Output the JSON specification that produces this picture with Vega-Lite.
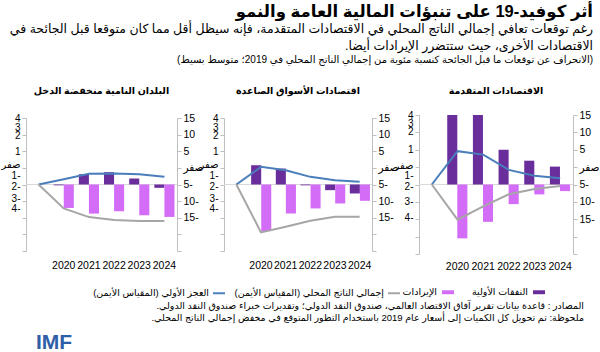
{
  "$schema": "https://vega.github.io/schema/vega-lite/v6.json",
  "padding": {"left": 0, "right": 0, "top": 3, "bottom": 0},
  "background": "white",
  "datasets": {
    "d": [
      {"panel": "A", "kind": "bar", "series": "النفقات الأولية", "year": "2020", "value": 4},
      {"panel": "A", "kind": "bar", "series": "النفقات الأولية", "year": "2021", "value": 4},
      {"panel": "A", "kind": "bar", "series": "النفقات الأولية", "year": "2022", "value": 2.0},
      {"panel": "A", "kind": "bar", "series": "النفقات الأولية", "year": "2023", "value": 1.37},
      {"panel": "A", "kind": "bar", "series": "النفقات الأولية", "year": "2024", "value": 1.03},
      {"panel": "A", "kind": "bar", "series": "الإيرادات", "year": "2020", "value": -3.1},
      {"panel": "A", "kind": "bar", "series": "الإيرادات", "year": "2021", "value": -2.15},
      {"panel": "A", "kind": "bar", "series": "الإيرادات", "year": "2022", "value": -1.13},
      {"panel": "A", "kind": "bar", "series": "الإيرادات", "year": "2023", "value": -0.57},
      {"panel": "A", "kind": "bar", "series": "الإيرادات", "year": "2024", "value": -0.38},
      {"panel": "A", "kind": "line", "series": "العجز الأولي (المقياس الأيمن)", "year": "2019", "value": 0},
      {"panel": "A", "kind": "line", "series": "العجز الأولي (المقياس الأيمن)", "year": "2020", "value": 9.6},
      {"panel": "A", "kind": "line", "series": "العجز الأولي (المقياس الأيمن)", "year": "2021", "value": 8.6},
      {"panel": "A", "kind": "line", "series": "العجز الأولي (المقياس الأيمن)", "year": "2022", "value": 4.2},
      {"panel": "A", "kind": "line", "series": "العجز الأولي (المقياس الأيمن)", "year": "2023", "value": 2.5},
      {"panel": "A", "kind": "line", "series": "العجز الأولي (المقياس الأيمن)", "year": "2024", "value": 1.8},
      {"panel": "A", "kind": "line", "series": "إجمالي الناتج المحلي (المقياس الأيمن)", "year": "2019", "value": 0},
      {"panel": "A", "kind": "line", "series": "إجمالي الناتج المحلي (المقياس الأيمن)", "year": "2020", "value": -10.1},
      {"panel": "A", "kind": "line", "series": "إجمالي الناتج المحلي (المقياس الأيمن)", "year": "2021", "value": -6.3},
      {"panel": "A", "kind": "line", "series": "إجمالي الناتج المحلي (المقياس الأيمن)", "year": "2022", "value": -2.8},
      {"panel": "A", "kind": "line", "series": "إجمالي الناتج المحلي (المقياس الأيمن)", "year": "2023", "value": -1.3},
      {"panel": "A", "kind": "line", "series": "إجمالي الناتج المحلي (المقياس الأيمن)", "year": "2024", "value": -0.4},

      {"panel": "E", "kind": "bar", "series": "النفقات الأولية", "year": "2020", "value": 1.16},
      {"panel": "E", "kind": "bar", "series": "النفقات الأولية", "year": "2021", "value": 0.96},
      {"panel": "E", "kind": "bar", "series": "النفقات الأولية", "year": "2022", "value": -0.05},
      {"panel": "E", "kind": "bar", "series": "النفقات الأولية", "year": "2023", "value": -0.34},
      {"panel": "E", "kind": "bar", "series": "النفقات الأولية", "year": "2024", "value": -0.54},
      {"panel": "E", "kind": "bar", "series": "الإيرادات", "year": "2020", "value": -2.8},
      {"panel": "E", "kind": "bar", "series": "الإيرادات", "year": "2021", "value": -1.74},
      {"panel": "E", "kind": "bar", "series": "الإيرادات", "year": "2022", "value": -1.44},
      {"panel": "E", "kind": "bar", "series": "الإيرادات", "year": "2023", "value": -1.14},
      {"panel": "E", "kind": "bar", "series": "الإيرادات", "year": "2024", "value": -0.98},
      {"panel": "E", "kind": "line", "series": "العجز الأولي (المقياس الأيمن)", "year": "2019", "value": 0},
      {"panel": "E", "kind": "line", "series": "العجز الأولي (المقياس الأيمن)", "year": "2020", "value": 5.3},
      {"panel": "E", "kind": "line", "series": "العجز الأولي (المقياس الأيمن)", "year": "2021", "value": 4.3},
      {"panel": "E", "kind": "line", "series": "العجز الأولي (المقياس الأيمن)", "year": "2022", "value": 2.3},
      {"panel": "E", "kind": "line", "series": "العجز الأولي (المقياس الأيمن)", "year": "2023", "value": 1.3},
      {"panel": "E", "kind": "line", "series": "العجز الأولي (المقياس الأيمن)", "year": "2024", "value": 0.8},
      {"panel": "E", "kind": "line", "series": "إجمالي الناتج المحلي (المقياس الأيمن)", "year": "2019", "value": 0},
      {"panel": "E", "kind": "line", "series": "إجمالي الناتج المحلي (المقياس الأيمن)", "year": "2020", "value": -14.4},
      {"panel": "E", "kind": "line", "series": "إجمالي الناتج المحلي (المقياس الأيمن)", "year": "2021", "value": -12.7},
      {"panel": "E", "kind": "line", "series": "إجمالي الناتج المحلي (المقياس الأيمن)", "year": "2022", "value": -10.9},
      {"panel": "E", "kind": "line", "series": "إجمالي الناتج المحلي (المقياس الأيمن)", "year": "2023", "value": -9.7},
      {"panel": "E", "kind": "line", "series": "إجمالي الناتج المحلي (المقياس الأيمن)", "year": "2024", "value": -9.7},

      {"panel": "L", "kind": "bar", "series": "النفقات الأولية", "year": "2020", "value": -0.05},
      {"panel": "L", "kind": "bar", "series": "النفقات الأولية", "year": "2021", "value": 0.62},
      {"panel": "L", "kind": "bar", "series": "النفقات الأولية", "year": "2022", "value": 0.74},
      {"panel": "L", "kind": "bar", "series": "النفقات الأولية", "year": "2023", "value": 0.36},
      {"panel": "L", "kind": "bar", "series": "النفقات الأولية", "year": "2024", "value": -0.2},
      {"panel": "L", "kind": "bar", "series": "الإيرادات", "year": "2020", "value": -1.41},
      {"panel": "L", "kind": "bar", "series": "الإيرادات", "year": "2021", "value": -1.75},
      {"panel": "L", "kind": "bar", "series": "الإيرادات", "year": "2022", "value": -1.61},
      {"panel": "L", "kind": "bar", "series": "الإيرادات", "year": "2023", "value": -1.85},
      {"panel": "L", "kind": "bar", "series": "الإيرادات", "year": "2024", "value": -1.95},
      {"panel": "L", "kind": "line", "series": "العجز الأولي (المقياس الأيمن)", "year": "2019", "value": 0},
      {"panel": "L", "kind": "line", "series": "العجز الأولي (المقياس الأيمن)", "year": "2020", "value": 1.6},
      {"panel": "L", "kind": "line", "series": "العجز الأولي (المقياس الأيمن)", "year": "2021", "value": 3.2},
      {"panel": "L", "kind": "line", "series": "العجز الأولي (المقياس الأيمن)", "year": "2022", "value": 3.3},
      {"panel": "L", "kind": "line", "series": "العجز الأولي (المقياس الأيمن)", "year": "2023", "value": 3.1},
      {"panel": "L", "kind": "line", "series": "العجز الأولي (المقياس الأيمن)", "year": "2024", "value": 2.3},
      {"panel": "L", "kind": "line", "series": "إجمالي الناتج المحلي (المقياس الأيمن)", "year": "2019", "value": 0},
      {"panel": "L", "kind": "line", "series": "إجمالي الناتج المحلي (المقياس الأيمن)", "year": "2020", "value": -7.2},
      {"panel": "L", "kind": "line", "series": "إجمالي الناتج المحلي (المقياس الأيمن)", "year": "2021", "value": -9.8},
      {"panel": "L", "kind": "line", "series": "إجمالي الناتج المحلي (المقياس الأيمن)", "year": "2022", "value": -10.7},
      {"panel": "L", "kind": "line", "series": "إجمالي الناتج المحلي (المقياس الأيمن)", "year": "2023", "value": -11.0},
      {"panel": "L", "kind": "line", "series": "إجمالي الناتج المحلي (المقياس الأيمن)", "year": "2024", "value": -11.0}
    ]
  },
  "config": {
    "view": {"stroke": null},
    "font": "Liberation Sans, DejaVu Sans, sans-serif",
    "axis": {"labelFont": "Liberation Sans, DejaVu Sans, sans-serif", "labelColor": "#000000", "labelFontSize": 10.5, "domainColor": "#bfbfbf", "tickColor": "#bfbfbf", "grid": false, "title": null},
    "legend": {"labelFont": "Liberation Sans, DejaVu Sans, sans-serif", "labelFontSize": 9.5, "labelColor": "#000000", "labelLimit": 0},
    "title": {"font": "Liberation Sans, DejaVu Sans, sans-serif", "color": "#000000", "subtitleColor": "#000000", "subtitleFont": "Liberation Sans, DejaVu Sans, sans-serif"}
  },
  "title": {
    "text": "‏أثر كوفيد-19 على تنبؤات المالية العامة والنمو‏",
    "subtitle": ["‏رغم توقعات تعافي إجمالي الناتج المحلي في الاقتصادات المتقدمة، فإنه سيظل أقل مما كان متوقعا قبل الجائحة في‏", "‏الاقتصادات الأخرى، حيث ستتضرر الإيرادات أيضا.‏"],
    "anchor": "end",
    "dx": -6,
    "fontSize": 16.5,
    "fontWeight": "bold",
    "subtitleFontSize": 12.5,
    "subtitleLineHeight": 17,
    "subtitlePadding": 3,
    "offset": 2
  },
  "data": {"name": "d"},
  "spacing": 0,
  "vconcat": [
    {
      "title": {"text": "‏(الانحراف عن توقعات ما قبل الجائحة كنسبة مئوية من إجمالي الناتج المحلي في 2019؛ متوسط بسيط)‏", "anchor": "end", "dx": -6, "fontSize": 10, "fontWeight": "normal", "offset": 21},
      "spacing": 47,
      "bounds": "flush",
      "center": true,
      "hconcat": [
        {
          "width": 151, "height": 133,
          "title": {"text": "البلدان النامية منخفضة الدخل", "fontSize": 9.5, "fontWeight": "bold", "offset": 18},
          "transform": [{"filter": "datum.panel == 'L'"}],
          "layer": [
            {"data": {"values": [{"zero": 0}]}, "mark": {"type": "rule", "color": "#d9d9d9", "strokeWidth": 1},
             "encoding": {"y": {"field": "zero", "type": "quantitative", "scale": {"domain": [-1, 1]}, "axis": null}}},
            {"transform": [{"filter": "datum.kind == 'bar'"}], "mark": {"type": "bar", "clip": true},
             "encoding": {
               "x": {"field": "year", "type": "nominal", "sort": null, "scale": {"type": "band", "domain": ["2019", "2020", "2021", "2022", "2023", "2024"], "paddingInner": 0.2, "paddingOuter": 0.1},
                     "axis": {"orient": "bottom", "domain": false, "ticks": false, "tickSize": 0, "labelPadding": 9, "labelAngle": 0, "labelExpr": "datum.value == '2019' ? '' : datum.label"}},
               "xOffset": {"field": "series", "type": "nominal", "scale": {"domain": ["النفقات الأولية", "الإيرادات"]}},
               "y": {"field": "value", "type": "quantitative", "scale": {"domain": [-4, 4], "nice": false},
                     "axis": {"orient": "left", "values": [-4, -3, -2, -1, 0, 1, 2, 3, 4, 3.97, 3.4, 2.97, 1.98, 1.22, 0.57, -0.14, -0.87, -1.42],
                              "labelExpr": "datum.value == 3.97 ? '4' : datum.value == 3.4 ? '3' : datum.value == 2.97 ? '2' : datum.value == 1.98 ? '1' : datum.value == 1.22 ? 'صفر' : datum.value == 0.57 ? '1-' : datum.value == -0.14 ? '2-' : datum.value == -0.87 ? '3-' : datum.value == -1.42 ? '4-' : ''",
                              "tickOpacity": {"condition": {"test": "datum.value % 1 == 0", "value": 1}, "value": 0},
                              "labelFontSize": 10, "labelOverlap": false, "labelFlush": false, "labelBound": false, "tickSize": 4, "labelPadding": 2}},
               "fill": {"field": "series", "type": "nominal", "scale": {"domain": ["الإيرادات", "النفقات الأولية"], "range": ["#d36cf6", "#6a2d9c"]},
                        "legend": {"orient": "none", "legendX": 416, "legendY": 171, "direction": "horizontal", "title": null, "symbolType": "M-1,-0.33H1V0.33H-1Z", "symbolSize": 144, "symbolStrokeWidth": 0, "labelAlign": "right", "labelOffset": -17, "columnPadding": 18, "labelExpr": "'‏' + datum.label + '‏'"}}
             }},
            {"transform": [{"filter": "datum.kind == 'line'"}], "mark": {"type": "line", "strokeWidth": 2},
             "encoding": {
               "x": {"field": "year", "type": "nominal", "sort": null, "scale": {"type": "band"}},
               "y": {"field": "value", "type": "quantitative", "scale": {"domain": [-20, 20], "nice": false},
                     "axis": {"orient": "right", "values": [20, 15, 10, 5, 0, -5, -10, -15, -20], "labelOverlap": false, "labelFlush": false, "labelBound": false, "tickSize": 4, "labelPadding": 2,
                              "labelExpr": "datum.value == 20 ? '15' : datum.value == 15 ? '10' : datum.value == 10 ? '5' : datum.value == 5 ? 'صفر' : datum.value == 0 ? '5-' : datum.value == -5 ? '10-' : datum.value == -10 ? '15-' : ''"}},
               "stroke": {"field": "series", "type": "nominal", "scale": {"domain": ["العجز الأولي (المقياس الأيمن)", "إجمالي الناتج المحلي (المقياس الأيمن)"], "range": ["#4a7ebb", "#a6a6a6"]},
                          "legend": {"orient": "none", "legendX": 186, "legendY": 171, "direction": "horizontal", "title": null, "symbolType": "stroke", "symbolSize": 144, "symbolStrokeWidth": 2, "labelAlign": "right", "labelOffset": -17, "columnPadding": 5, "labelExpr": "'‏' + datum.label + '‏'"}}
             }}
          ],
          "resolve": {"scale": {"y": "independent"}}
        },
        {
          "width": 148, "height": 133,
          "title": {"text": "اقتصادات الأسواق الصاعدة", "fontSize": 9.5, "fontWeight": "bold", "offset": 18},
          "transform": [{"filter": "datum.panel == 'E'"}],
          "layer": [
            {"data": {"values": [{"zero": 0}]}, "mark": {"type": "rule", "color": "#d9d9d9", "strokeWidth": 1},
             "encoding": {"y": {"field": "zero", "type": "quantitative", "scale": {"domain": [-1, 1]}, "axis": null}}},
            {"transform": [{"filter": "datum.kind == 'bar'"}], "mark": {"type": "bar", "clip": true},
             "encoding": {
               "x": {"field": "year", "type": "nominal", "sort": null, "scale": {"type": "band", "domain": ["2019", "2020", "2021", "2022", "2023", "2024"], "paddingInner": 0.2, "paddingOuter": 0.1},
                     "axis": {"orient": "bottom", "domain": false, "ticks": false, "tickSize": 0, "labelPadding": 9, "labelAngle": 0, "labelExpr": "datum.value == '2019' ? '' : datum.label"}},
               "xOffset": {"field": "series", "type": "nominal", "scale": {"domain": ["النفقات الأولية", "الإيرادات"]}},
               "y": {"field": "value", "type": "quantitative", "scale": {"domain": [-4, 4], "nice": false},
                     "axis": {"orient": "left", "values": [-4, -3, -2, -1, 0, 1, 2, 3, 4, 3.97, 3.4, 2.97, 1.98, 1.22, 0.57, -0.14, -0.87, -1.42],
                              "labelExpr": "datum.value == 3.97 ? '4' : datum.value == 3.4 ? '3' : datum.value == 2.97 ? '2' : datum.value == 1.98 ? '1' : datum.value == 1.22 ? 'صفر' : datum.value == 0.57 ? '1-' : datum.value == -0.14 ? '2-' : datum.value == -0.87 ? '3-' : datum.value == -1.42 ? '4-' : ''",
                              "tickOpacity": {"condition": {"test": "datum.value % 1 == 0", "value": 1}, "value": 0},
                              "labelFontSize": 10, "labelOverlap": false, "labelFlush": false, "labelBound": false, "tickSize": 4, "labelPadding": 2}},
               "fill": {"field": "series", "type": "nominal",
                        "legend": {"orient": "none", "legendX": 416, "legendY": 171, "direction": "horizontal", "title": null, "symbolType": "M-1,-0.33H1V0.33H-1Z", "symbolSize": 144, "symbolStrokeWidth": 0, "labelAlign": "right", "labelOffset": -17, "columnPadding": 18, "labelExpr": "'‏' + datum.label + '‏'"}}
             }},
            {"transform": [{"filter": "datum.kind == 'line'"}], "mark": {"type": "line", "strokeWidth": 2},
             "encoding": {
               "x": {"field": "year", "type": "nominal", "sort": null, "scale": {"type": "band"}},
               "y": {"field": "value", "type": "quantitative", "scale": {"domain": [-20, 20], "nice": false},
                     "axis": {"orient": "right", "values": [20, 15, 10, 5, 0, -5, -10, -15, -20], "labelOverlap": false, "labelFlush": false, "labelBound": false, "tickSize": 4, "labelPadding": 2,
                              "labelExpr": "datum.value == 20 ? '15' : datum.value == 15 ? '10' : datum.value == 10 ? '5' : datum.value == 5 ? 'صفر' : datum.value == 0 ? '5-' : datum.value == -5 ? '10-' : datum.value == -10 ? '15-' : ''"}},
               "stroke": {"field": "series", "type": "nominal",
                          "legend": {"orient": "none", "legendX": 186, "legendY": 171, "direction": "horizontal", "title": null, "symbolType": "stroke", "symbolSize": 144, "symbolStrokeWidth": 2, "labelAlign": "right", "labelOffset": -17, "columnPadding": 5, "labelExpr": "'‏' + datum.label + '‏'"}}
             }}
          ],
          "resolve": {"scale": {"y": "independent"}}
        },
        {
          "width": 154, "height": 139,
          "title": {"text": "الاقتصادات المتقدمة", "fontSize": 9.5, "fontWeight": "bold", "offset": 15},
          "transform": [{"filter": "datum.panel == 'A'"}],
          "layer": [
            {"data": {"values": [{"zero": 0}]}, "mark": {"type": "rule", "color": "#d9d9d9", "strokeWidth": 1},
             "encoding": {"y": {"field": "zero", "type": "quantitative", "scale": {"domain": [-1, 1]}, "axis": null}}},
            {"transform": [{"filter": "datum.kind == 'bar'"}], "mark": {"type": "bar", "clip": true},
             "encoding": {
               "x": {"field": "year", "type": "nominal", "sort": null, "scale": {"type": "band", "domain": ["2019", "2020", "2021", "2022", "2023", "2024"], "paddingInner": 0.2, "paddingOuter": 0.1},
                     "axis": {"orient": "bottom", "domain": false, "ticks": false, "tickSize": 0, "labelPadding": 7, "labelAngle": 0, "labelExpr": "datum.value == '2019' ? '' : datum.label"}},
               "xOffset": {"field": "series", "type": "nominal", "scale": {"domain": ["النفقات الأولية", "الإيرادات"]}},
               "y": {"field": "value", "type": "quantitative", "scale": {"domain": [-4, 4], "nice": false},
                     "axis": {"orient": "left", "values": [-4, -3, -2, -1, 0, 1, 2, 3, 4, 3.99, 3.52, 3.03, 2.02, 1.1, 0.5, -0.1, -0.95, -1.9],
                              "labelExpr": "datum.value == 3.99 ? '4' : datum.value == 3.52 ? '3' : datum.value == 3.03 ? '2' : datum.value == 2.02 ? '1' : datum.value == 1.1 ? 'صفر' : datum.value == 0.5 ? '1-' : datum.value == -0.1 ? '2-' : datum.value == -0.95 ? '3-' : datum.value == -1.9 ? '4-' : ''",
                              "tickOpacity": {"condition": {"test": "datum.value % 1 == 0", "value": 1}, "value": 0},
                              "labelFontSize": 10, "labelOverlap": false, "labelFlush": false, "labelBound": false, "tickSize": 4, "labelPadding": 2}},
               "fill": {"field": "series", "type": "nominal",
                        "legend": {"orient": "none", "legendX": 416, "legendY": 171, "direction": "horizontal", "title": null, "symbolType": "M-1,-0.33H1V0.33H-1Z", "symbolSize": 144, "symbolStrokeWidth": 0, "labelAlign": "right", "labelOffset": -17, "columnPadding": 18, "labelExpr": "'‏' + datum.label + '‏'"}}
             }},
            {"transform": [{"filter": "datum.kind == 'line'"}], "mark": {"type": "line", "strokeWidth": 2},
             "encoding": {
               "x": {"field": "year", "type": "nominal", "sort": null, "scale": {"type": "band"}},
               "y": {"field": "value", "type": "quantitative", "scale": {"domain": [-20, 20], "nice": false},
                     "axis": {"orient": "right", "values": [20, 15, 10, 5, 0, -5, -10, -15, -20], "labelOverlap": false, "labelFlush": false, "labelBound": false, "tickSize": 4, "labelPadding": 2,
                              "labelExpr": "datum.value == 20 ? '15' : datum.value == 15 ? '10' : datum.value == 10 ? '5' : datum.value == 5 ? 'صفر' : datum.value == 0 ? '5-' : datum.value == -5 ? '10-' : datum.value == -10 ? '15-' : ''"}},
               "stroke": {"field": "series", "type": "nominal",
                          "legend": {"orient": "none", "legendX": 186, "legendY": 171, "direction": "horizontal", "title": null, "symbolType": "stroke", "symbolSize": 144, "symbolStrokeWidth": 2, "labelAlign": "right", "labelOffset": -17, "columnPadding": 5, "labelExpr": "'‏' + datum.label + '‏'"}}
             }}
          ],
          "resolve": {"scale": {"y": "independent"}}
        }
      ]
    },
    {
      "width": 558, "height": 29,
      "title": {"text": ["‏المصادر : قاعدة بيانات تقرير آفاق الاقتصاد العالمي، صندوق النقد الدولي؛ وتقديرات خبراء صندوق النقد الدولي.‏", "‏ملحوظة: تم تحويل كل الكميات إلى أسعار عام 2019 باستخدام التطور المتوقع في مخفض إجمالي الناتج المحلي.‏"], "orient": "bottom", "anchor": "end", "fontSize": 9.5, "fontWeight": "normal", "lineHeight": 11.5, "offset": 0},
      "data": {"values": [{"t": ""}]},
      "mark": {"type": "text"},
      "encoding": {"text": {"field": "t"}}
    },
    {
      "width": 56, "height": 19,
      "data": {"values": [{"logo": "IMF"}]},
      "mark": {"type": "text", "font": "Liberation Sans", "fontSize": 21, "fontWeight": "bold", "color": "#2e5ea8", "baseline": "top"},
      "encoding": {"text": {"field": "logo"}}
    }
  ]
}
